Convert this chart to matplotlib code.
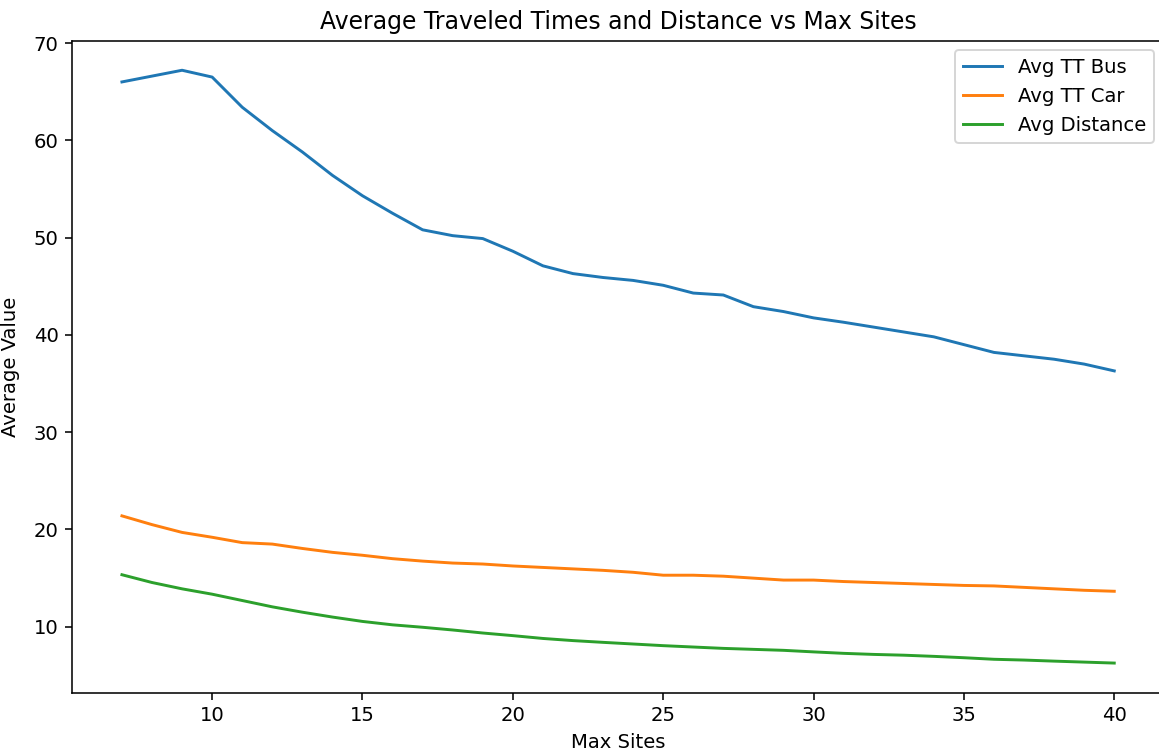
"""Average travel times and distance as a function of max sites."""
import matplotlib
matplotlib.use("Agg")
import matplotlib.pyplot as plt

max_sites = list(range(7, 41))

avg_tt_bus = [
    66.0, 66.6, 67.2, 66.5, 63.4, 61.0, 58.8, 56.4, 54.3, 52.5,
    50.8, 50.2, 49.9, 48.6, 47.1, 46.3, 45.9, 45.6, 45.1, 44.3,
    44.1, 42.9, 42.4, 41.75, 41.3, 40.8, 40.3, 39.8, 39.0, 38.2,
    37.85, 37.5, 37.0, 36.3,
]

avg_tt_car = [
    21.4, 20.5, 19.7, 19.2, 18.65, 18.5, 18.05, 17.65, 17.35, 17.0,
    16.75, 16.55, 16.45, 16.25, 16.1, 15.95, 15.8, 15.6, 15.3, 15.3,
    15.2, 15.0, 14.8, 14.8, 14.65, 14.55, 14.45, 14.35, 14.25, 14.2,
    14.05, 13.9, 13.75, 13.65,
]

avg_distance = [
    15.35, 14.55, 13.9, 13.35, 12.7, 12.05, 11.5, 11.0, 10.55, 10.2,
    9.95, 9.67, 9.36, 9.09, 8.8, 8.58, 8.4, 8.23, 8.06, 7.92,
    7.78, 7.68, 7.58, 7.42, 7.27, 7.16, 7.08, 6.96, 6.82, 6.66,
    6.58, 6.47, 6.37, 6.27,
]

dpi = 141
plt.figure(figsize=(1159 / dpi, 755 / dpi), dpi=dpi)
ax = plt.axes([0.0624, 0.0825, 0.9418, 0.8637])
# the right edge of the frame falls outside the canvas
ax.spines["right"].set_visible(False)

plt.plot(max_sites, avg_tt_bus, label="Avg TT Bus")
plt.plot(max_sites, avg_tt_car, label="Avg TT Car")
plt.plot(max_sites, avg_distance, label="Avg Distance")

plt.title("Average Traveled Times and Distance vs Max Sites")
plt.xlabel("Max Sites")
plt.ylabel("Average Value", labelpad=7)
plt.legend(loc="upper right")

plt.savefig("out.png", dpi=dpi)
